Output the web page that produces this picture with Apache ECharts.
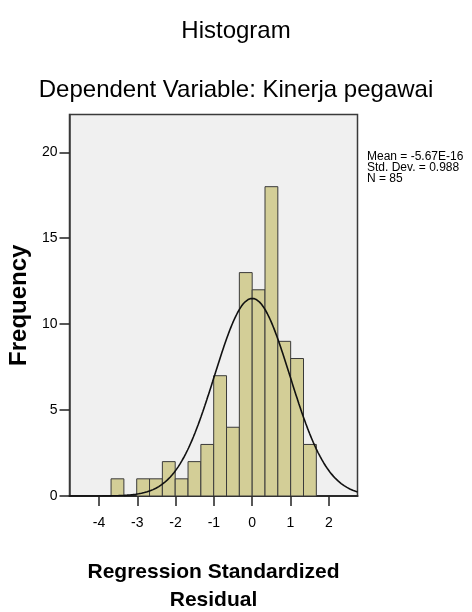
<!DOCTYPE html>
<html>
<head>
<meta charset="utf-8">
<script src="https://cdn.jsdelivr.net/npm/echarts@6/dist/echarts.min.js"></script>
<style>
html,body{margin:0;padding:0;background:#fff;}
#chart{width:472px;height:612px;}
</style>
</head>
<body>
<div id="chart"></div>
<script>
// Histogram bins (regression standardized residual)
var binStart = -3.685;
var binWidth = 0.335;
var counts = [1, 0, 1, 1, 2, 1, 2, 3, 7, 4, 13, 12, 18, 9, 8, 3];
var xTicks = [-4, -3, -2, -1, 0, 1, 2];
var yTicks = [0, 5, 10, 15, 20];
var statsMean = -5.67e-16;
var statsSD = 0.988;
var statsN = 85;
var statsLines = ['Mean = -5.67E-16', 'Std. Dev. = 0.988', 'N = 85'];

var xMin = -4.77, xMax = 2.75, yMax = 22.2;

var barData = counts.map(function (c, i) {
  var x0 = binStart + i * binWidth;
  return [x0, x0 + binWidth, c];
});

// Fitted normal curve from the displayed mean, std. dev. and N
var curve = [];
for (var k = 0; k <= 300; k++) {
  var x = xMin + (xMax - xMin) * k / 300;
  var z = (x - statsMean) / statsSD;
  var y = statsN * binWidth * Math.exp(-0.5 * z * z) / (statsSD * Math.sqrt(2 * Math.PI));
  curve.push([x, y]);
}

var font = "'Liberation Sans',Arial,sans-serif";
var chart = echarts.init(document.getElementById('chart'), null, {renderer: 'canvas'});
chart.setOption({
  animation: false,
  grid: {
    left: 69.5, right: 114.5, top: 114.5, bottom: 116,
    outerBoundsMode: 'none', containLabel: false,
    show: true, backgroundColor: '#f0f0f0', borderColor: '#3a3a3a', borderWidth: 1.5
  },
  xAxis: {
    type: 'value', min: xMin, max: xMax,
    splitLine: {show: false},
    axisLine: {show: true, onZero: false, lineStyle: {color: '#2a2a2a', width: 2}},
    axisTick: {show: true, length: 10, customValues: xTicks, lineStyle: {color: '#222', width: 1.5}},
    axisLabel: {customValues: xTicks, color: '#000', fontSize: 14, fontFamily: font, margin: 20,
      formatter: function (v) { return String(v); }},
    name: 'Regression Standardized\nResidual',
    nameLocation: 'middle', nameGap: 62,
    nameTextStyle: {color: '#000', fontSize: 21, fontWeight: 'bold', fontFamily: font, lineHeight: 28}
  },
  yAxis: {
    type: 'value', min: 0, max: yMax,
    splitLine: {show: false},
    axisLine: {show: true, onZero: false, lineStyle: {color: '#3a3a3a', width: 1.5}},
    axisTick: {show: true, length: 10, customValues: yTicks, lineStyle: {color: '#222', width: 1.5}},
    axisLabel: {customValues: yTicks, color: '#000', fontSize: 14, fontFamily: font, margin: 12},
    name: 'Frequency',
    nameLocation: 'middle', nameGap: 33, nameRotate: 90,
    nameTextStyle: {color: '#000', fontSize: 24, fontWeight: 'bold', fontFamily: font}
  },
  series: [
    {
      type: 'custom',
      data: barData,
      encode: {x: [0, 1], y: 2},
      renderItem: function (params, api) {
        if (api.value(2) === 0) return null;
        var p0 = api.coord([api.value(0), api.value(2)]);
        var p1 = api.coord([api.value(1), 0]);
        return {
          type: 'rect',
          shape: {x: p0[0], y: p0[1], width: p1[0] - p0[0], height: p1[1] - p0[1]},
          style: {fill: '#d3ce97', stroke: '#3a3a3a', lineWidth: 1}
        };
      },
      z: 2
    },
    {
      type: 'line',
      data: curve,
      showSymbol: false,
      lineStyle: {color: '#111', width: 1.6},
      z: 3
    }
  ],
  graphic: [
    {type: 'text', left: 'center', top: 19,
      style: {text: 'Histogram', fontSize: 24, fontFamily: font, fill: '#000'}},
    {type: 'text', left: 'center', top: 78,
      style: {text: 'Dependent Variable: Kinerja pegawai', fontSize: 24, fontFamily: font, fill: '#000'}},
    {type: 'text', left: 367, top: 151,
      style: {text: statsLines.join('\n'), fontSize: 12, lineHeight: 11, fontFamily: font, fill: '#000'}}
  ]
});
</script>
</body>
</html>
